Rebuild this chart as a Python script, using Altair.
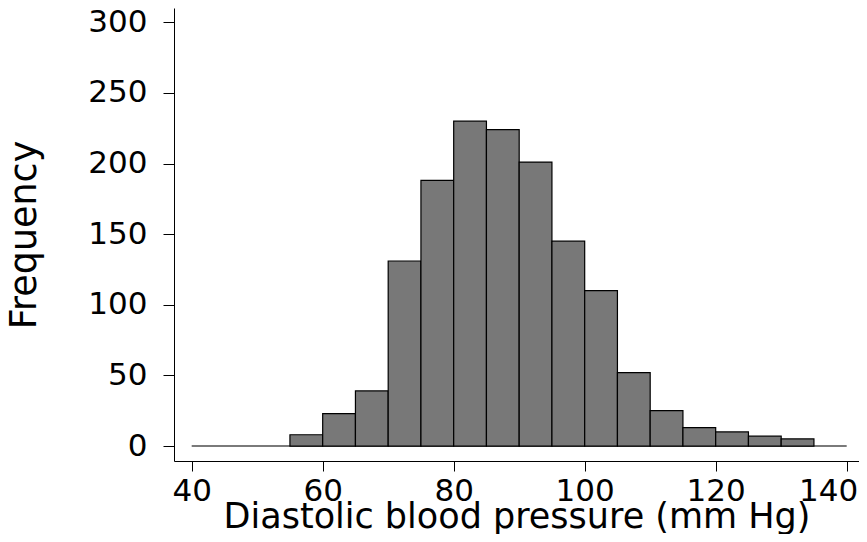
import altair as alt
import pandas as pd

bin_starts = [40, 45, 50, 55, 60, 65, 70, 75, 80, 85, 90, 95, 100, 105, 110, 115, 120, 125, 130, 135]
counts = [0, 0, 0, 8, 23, 39, 131, 188, 230, 224, 201, 145, 110, 52, 25, 13, 10, 7, 5, 0]
bin_width = 5
x_ticks = [40, 60, 80, 100, 120, 140]
y_ticks = [0, 50, 100, 150, 200, 250, 300]

df = pd.DataFrame({
    "start": bin_starts,
    "end": [s + bin_width for s in bin_starts],
    "count": counts,
})

FONT = "DejaVu Sans"

xscale = alt.Scale(domain=[37.30, 141.88], nice=False, zero=False)
yscale = alt.Scale(domain=[-10.6, 310.1], nice=False, zero=False)

xaxis = alt.Axis(
    values=x_ticks, title="Diastolic blood pressure (mm Hg)", grid=False,
    tickSize=10, labelPadding=5, labelFontSize=31, titleFontSize=35,
    titleFontWeight="normal", titleBaseline="alphabetic", titleY=66,
    labelFont=FONT, titleFont=FONT, labelColor="black", titleColor="black",
    domainColor="black", tickColor="black", labelFlush=15, labelFlushOffset=11,
    labelOverlap=False,
)
yaxis = alt.Axis(
    values=y_ticks, title="Frequency", grid=False,
    tickSize=11, labelPadding=16, labelFontSize=31, titleFontSize=36.5,
    titleFontWeight="normal", titleBaseline="alphabetic", titleX=-139, titleAngle=270,
    labelFont=FONT, titleFont=FONT, labelColor="black", titleColor="black",
    domainColor="black", tickColor="black", labelFlush=False, labelOverlap=False,
)

base = alt.Chart(df)

zero_line = base.transform_aggregate(
    x0="min(start)", x1="max(end)"
).transform_calculate(zero="0").mark_rule(color="#7a7a7a", strokeWidth=2).encode(
    x=alt.X("x0:Q", scale=xscale, axis=xaxis),
    x2="x1:Q",
    y=alt.Y("zero:Q", scale=yscale, axis=yaxis),
)

bars = base.transform_filter("datum.count > 0").transform_calculate(base0="0").mark_rect(
    fill="#787878", stroke="black", strokeWidth=1.2
).encode(
    x=alt.X("start:Q", scale=xscale, axis=xaxis),
    x2="end:Q",
    y=alt.Y("count:Q", scale=yscale, axis=yaxis),
    y2="base0:Q",
)

chart = alt.layer(zero_line, bars).properties(
    width=685, height=453,
    autosize=alt.AutoSizeParams(type="none"),
    padding={"left": 166, "top": 0, "right": 0, "bottom": 73},
).configure(background="white").configure_view(stroke=None)

chart.save("out.html", embed_options={"renderer": "svg", "actions": False})
